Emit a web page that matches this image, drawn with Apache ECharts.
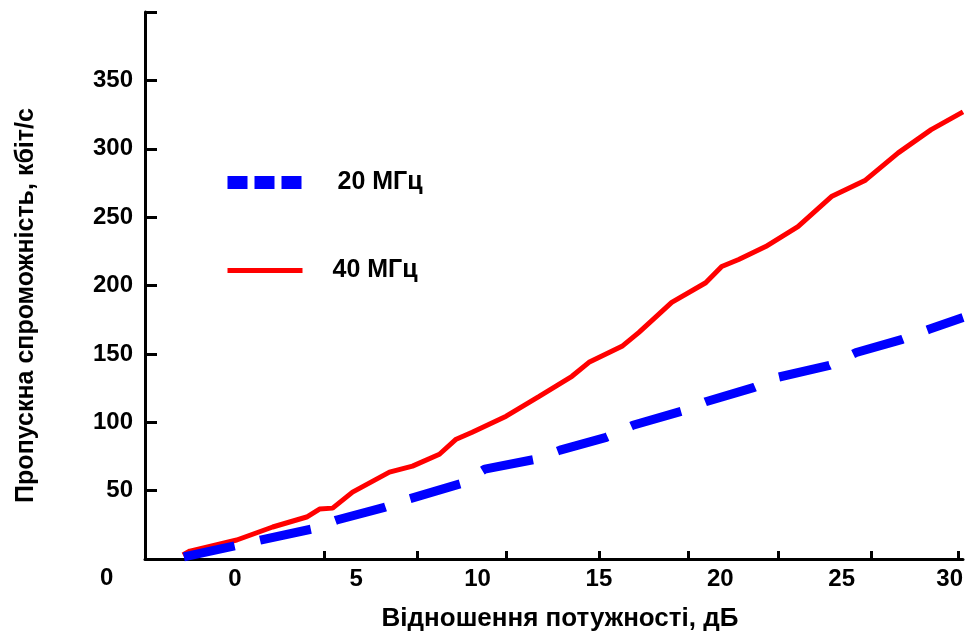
<!DOCTYPE html>
<html>
<head>
<meta charset="utf-8">
<script src="https://cdn.jsdelivr.net/npm/echarts@6/dist/echarts.min.js"></script>
<style>
html, body { margin: 0; padding: 0; background: #fff; }
#chart { width: 966px; height: 637px; }
</style>
</head>
<body>
<div id="chart"></div>
<script>
// значення
var xLabels = [0, 5, 10, 15, 20, 25, 30];
var xTicks = [3.7, 7.5, 11.2, 15, 18.7, 22.4, 26.2, 29.8];
var yLabels = [50, 100, 150, 200, 250, 300, 350];
var yTicks = [50, 100, 150, 200, 250, 300, 350, 400];

var seriesNames = ['20 МГц', '40 МГц'];

var mhz20 = [
  [-2.1, 1.5], [0.1, 10], [1.1, 14], [3.2, 22], [4.2, 28.5], [6.2, 38],
  [7.2, 44], [9.3, 55], [10.3, 65.7], [12.4, 73], [13.4, 79.6], [15.3, 89],
  [16.4, 97.8], [18.4, 108], [19.4, 115], [21.4, 125.5], [22.4, 133],
  [24.5, 141.6], [25.6, 151], [27.5, 160.6], [28.6, 168], [30, 176.6]
];

var mhz40 = [
  [-2.14, 3], [-1.85, 5.8], [0.08, 13.9], [1.56, 23.4], [2.96, 30.7],
  [3.49, 36.5], [4.03, 37.2], [4.85, 48.9], [6.37, 63.5], [7.32, 67.9],
  [8.43, 76.6], [9.12, 87.6], [9.78, 92.7], [11.18, 104.4], [12.54, 119],
  [13.89, 133.6], [14.59, 143.8], [15.95, 155.5], [16.65, 165.7], [18.0, 187.6],
  [19.4, 202], [20.06, 213.9], [20.76, 219], [21.87, 228.5], [23.2, 243],
  [24.58, 265], [25.98, 277], [27.33, 297], [28.69, 314], [30.0, 327]
];

var font = 'Liberation Sans, Arial, sans-serif';
var myChart = echarts.init(document.getElementById('chart'));

myChart.setOption({
  backgroundColor: '#fff',
  animation: false,
  grid: {
    left: 145,
    right: 1,
    top: 12,
    bottom: 77
  },
  legend: {
    orient: 'vertical',
    left: 221,
    top: 170,
    padding: 0,
    itemWidth: 75,
    itemHeight: 13,
    itemGap: 63,
    textStyle: {
      color: '#000',
      fontSize: 25,
      fontWeight: 'bold',
      fontFamily: font
    },
    data: [{
      name: seriesNames[0],
      textStyle: { padding: [0, 0, 0, 30] },
      lineStyle: { type: [20, 7], width: 13 },
      itemStyle: { opacity: 0 }
    }, {
      name: seriesNames[1],
      textStyle: { padding: [0, 0, 0, 25] },
      lineStyle: { width: 5 },
      itemStyle: { opacity: 0 }
    }]
  },
  xAxis: {
    type: 'value',
    min: -3.7,
    max: 30,
    name: 'Відношення потужності, дБ',
    nameLocation: 'middle',
    nameGap: 47,
    nameTextStyle: {
      color: '#000',
      fontSize: 26,
      fontWeight: 'bold',
      fontFamily: font,
      padding: [0, 0, 0, 12]
    },
    axisLine: { lineStyle: { color: '#000', width: 3 } },
    axisTick: {
      inside: true,
      length: 8,
      lineStyle: { color: '#000', width: 3 },
      customValues: xTicks
    },
    axisLabel: {
      color: '#000',
      fontSize: 24,
      fontWeight: 'bold',
      fontFamily: font,
      margin: 8,
      customValues: xLabels,
      alignMaxLabel: 'right'
    },
    splitLine: { show: false }
  },
  yAxis: {
    type: 'value',
    min: 0,
    max: 400,
    name: 'Пропускна спроможність, кбіт/с',
    nameLocation: 'middle',
    nameGap: 106,
    nameTextStyle: {
      color: '#000',
      fontSize: 25,
      fontWeight: 'bold',
      fontFamily: font,
      padding: [0, 40, 0, 0]
    },
    axisLine: { onZero: false, lineStyle: { color: '#000', width: 3 } },
    axisTick: {
      inside: true,
      length: 12,
      lineStyle: { color: '#000', width: 3 },
      customValues: yTicks
    },
    axisLabel: {
      color: '#000',
      fontSize: 24,
      fontWeight: 'bold',
      fontFamily: font,
      margin: 12,
      customValues: yLabels
    },
    splitLine: { show: false }
  },
  graphic: [{
    type: 'text',
    left: 100,
    top: 566,
    style: {
      text: '0',
      fill: '#000',
      font: 'bold 24px ' + font
    }
  }],
  series: [{
    name: seriesNames[0],
    type: 'line',
    symbol: 'none',
    data: mhz20,
    lineStyle: {
      color: '#0000ff',
      width: 9,
      type: [52, 26],
      cap: 'butt'
    },
    itemStyle: { color: '#0000ff' },
    z: 3
  }, {
    name: seriesNames[1],
    type: 'line',
    symbol: 'none',
    data: mhz40,
    lineStyle: {
      color: '#ff0000',
      width: 5
    },
    itemStyle: { color: '#ff0000' },
    z: 2
  }]
});
</script>
</body>
</html>
